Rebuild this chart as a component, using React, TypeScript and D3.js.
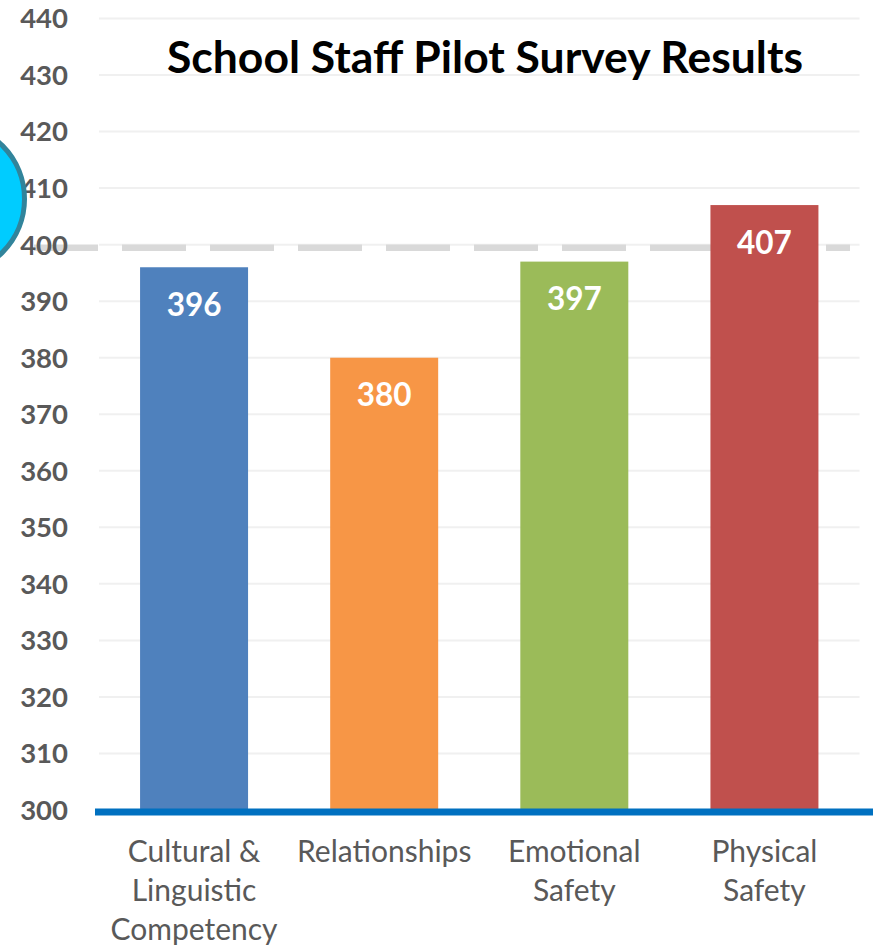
import React from "react";
import * as d3 from "d3";

const categories: string[][] = [
  ["Cultural &", "Linguistic", "Competency"],
  ["Relationships"],
  ["Emotional", "Safety"],
  ["Physical", "Safety"],
];
const values: number[] = [396, 380, 397, 407];
const barColors: string[] = ["#4f81bd", "#f79646", "#9bbb59", "#c0504d"];
const yTicks: number[] = [300, 310, 320, 330, 340, 350, 360, 370, 380, 390, 400, 410, 420, 430, 440];
const referenceValue = 400;
const title = "School Staff Pilot Survey Results";

const W = 879;
const H = 946;

export default function App() {
  const keys = categories.map((c) => c.join(" "));
  const x = d3
    .scaleBand<string>()
    .domain(keys)
    .range([99, 859.5])
    .paddingInner(0.432)
    .paddingOuter(0.216);
  const y = d3.scaleLinear().domain([300, 440]).range([810, 18.5]);
  const font = "Lato, 'Open Sans', sans-serif";

  return (
    <svg
      width={W}
      height={H}
      style={{ position: "absolute", left: 0, top: 0, background: "#fff" }}
      fontFamily={font}
    >
      <rect x={0} y={0} width={W} height={H} fill="#fff" />
      {/* gridlines */}
      {yTicks.map((t) => (
        <line key={"g" + t} x1={99} x2={859.5} y1={y(t)} y2={y(t)} stroke="#f0f0f0" strokeWidth={2} />
      ))}
      {/* reference dashed line */}
      <line
        x1={34}
        x2={850}
        y1={y(referenceValue) + 3}
        y2={y(referenceValue) + 3}
        stroke="#d9d9d9"
        strokeWidth={6.5}
        strokeDasharray="64 24"
      />
      {/* bars */}
      {values.map((v, i) => (
        <rect
          key={"b" + i}
          x={x(keys[i])!}
          y={y(v)}
          width={x.bandwidth()}
          height={y(300) - y(v)}
          fill={barColors[i]}
        />
      ))}
      {/* value labels */}
      {values.map((v, i) => (
        <text
          key={"v" + i}
          x={x(keys[i])! + x.bandwidth() / 2}
          y={y(v) + 48.5}
          textAnchor="middle"
          fill="#fff"
          fontWeight={700}
          fontSize={31.5}
        >
          {v}
        </text>
      ))}
      {/* axis line */}
      <line x1={95} x2={873} y1={y(300) + 2} y2={y(300) + 2} stroke="#0070c0" strokeWidth={7} />
      {/* y tick labels */}
      {yTicks.map((t) => (
        <text
          key={"t" + t}
          x={68}
          y={y(t)}
          dy="0.36em"
          textAnchor="end"
          fill="#595959"
          fontWeight={700}
          fontSize={27.5}
        >
          {t}
        </text>
      ))}
      {/* category labels */}
      {categories.map((lines, i) => (
        <text
          key={"c" + i}
          x={x(keys[i])! + x.bandwidth() / 2}
          y={862}
          textAnchor="middle"
          fill="#595959"
          fontSize={30}
        >
          {lines.map((l, j) => (
            <tspan key={j} x={x(keys[i])! + x.bandwidth() / 2} dy={j === 0 ? 0 : 39}>
              {l}
            </tspan>
          ))}
        </text>
      ))}
      {/* title */}
      <text
        x={485}
        y={73}
        textAnchor="middle"
        fill="#000"
        fontWeight={700}
        fontSize={43}
        textLength={636}
        lengthAdjust="spacingAndGlyphs"
      >
        {title}
      </text>
      {/* decorative circle */}
      <circle cx={-51} cy={199} r={75.5} fill="#00ccff" stroke="#31849b" strokeWidth={5} />
    </svg>
  );
}
